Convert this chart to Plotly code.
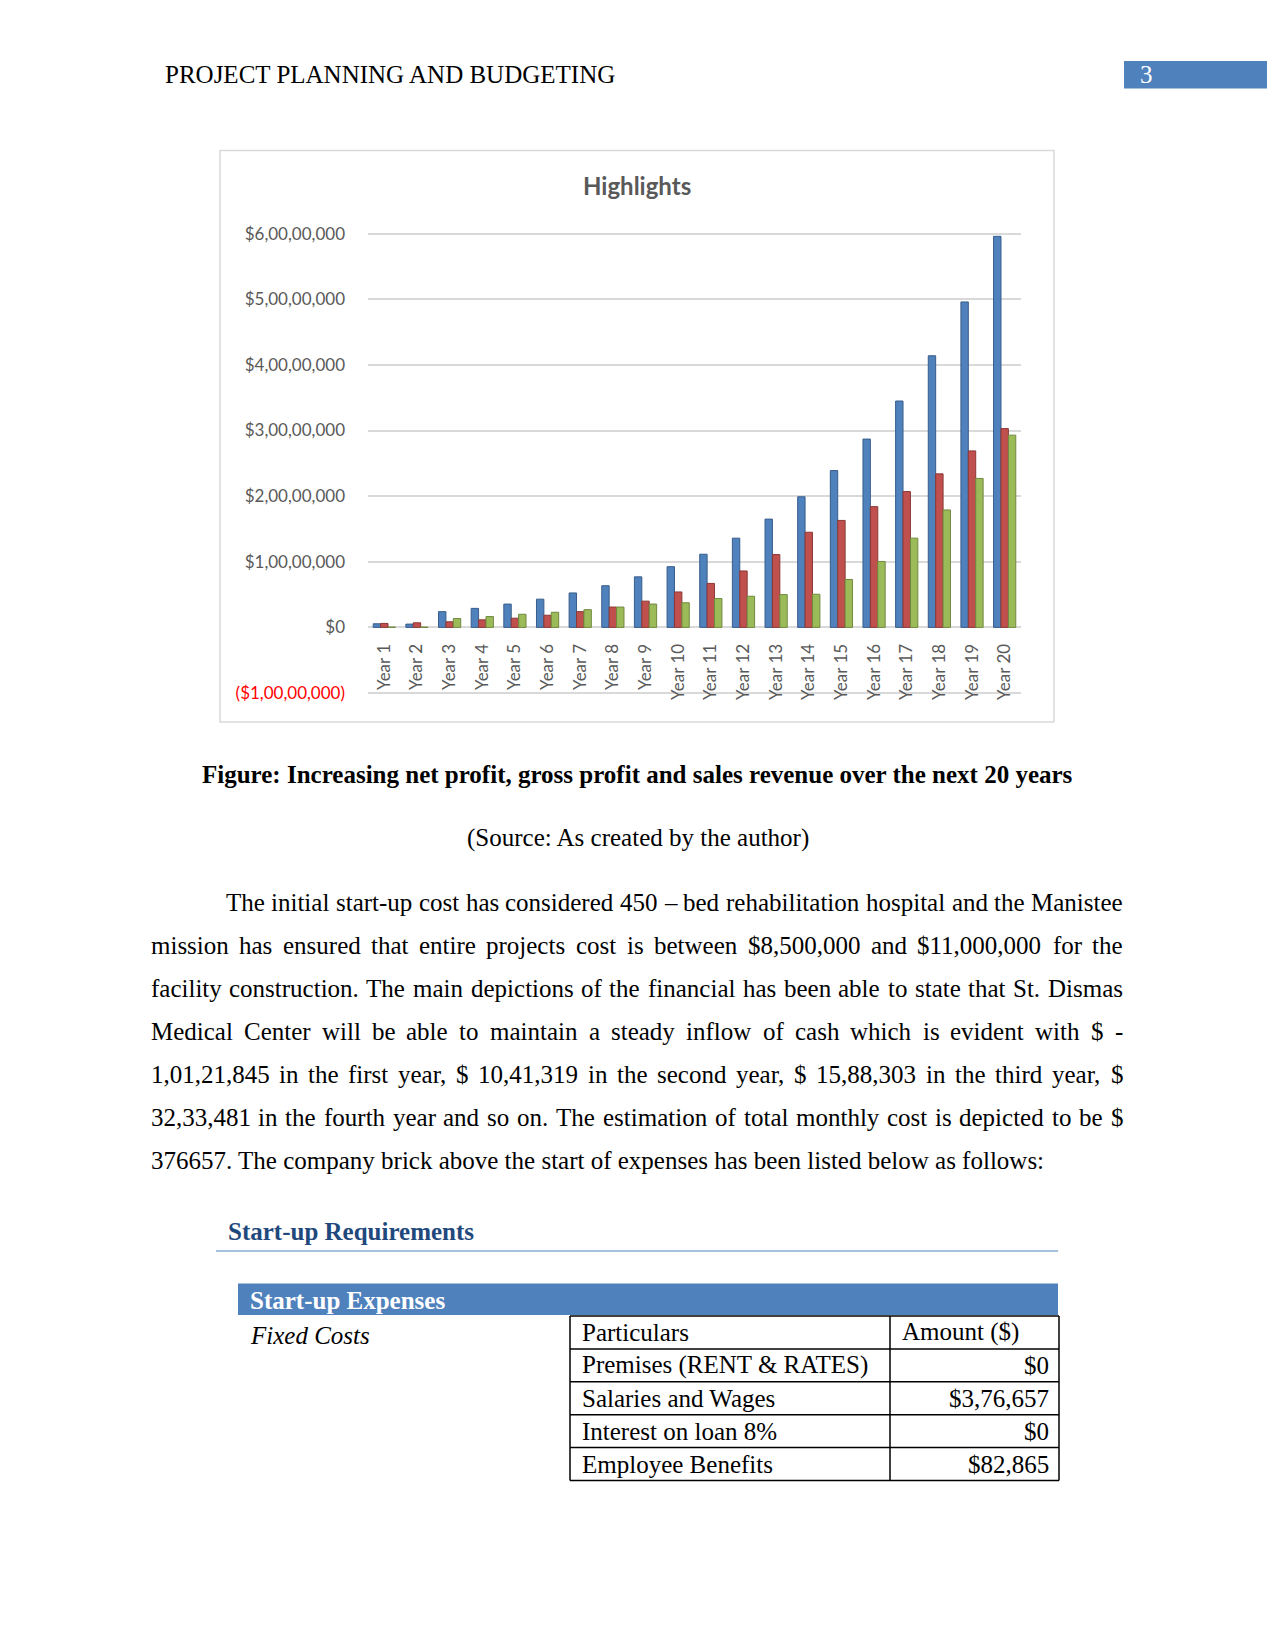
import plotly.graph_objects as go

# The page body adds an 8px margin around the figure; size the figure so the
# screen (1275x1651) coordinates below map exactly.
OFF = 8
FW, FH = 1267, 1635

# ---------------- chart data ----------------
years = ["Year 1", "Year 2", "Year 3", "Year 4", "Year 5", "Year 6", "Year 7", "Year 8",
         "Year 9", "Year 10", "Year 11", "Year 12", "Year 13", "Year 14", "Year 15",
         "Year 16", "Year 17", "Year 18", "Year 19", "Year 20"]
sales_revenue = [550000, 500000, 2400000, 2900000, 3550000, 4300000, 5250000, 6350000,
                 7700000, 9250000, 11150000, 13600000, 16500000, 19900000, 23900000,
                 28700000, 34500000, 41400000, 49600000, 59600000]
gross_profit = [600000, 700000, 850000, 1150000, 1400000, 1850000, 2400000, 3100000,
                4000000, 5400000, 6700000, 8600000, 11100000, 14500000, 16300000,
                18400000, 20700000, 23400000, 26900000, 30300000]
net_profit = [50000, 40000, 1350000, 1650000, 2000000, 2300000, 2700000, 3100000,
              3550000, 3750000, 4400000, 4750000, 5000000, 5050000, 7300000,
              10050000, 13600000, 17900000, 22700000, 29300000]
y_tick_vals = [-10000000, 0, 10000000, 20000000, 30000000, 40000000, 50000000, 60000000]
y_tick_text = ["<span style='color:#FF0000'>($1,00,00,000)</span>", "$0", "$1,00,00,000",
               "$2,00,00,000", "$3,00,00,000", "$4,00,00,000", "$5,00,00,000", "$6,00,00,000"]

# ---------------- page text ----------------
header_text = "PROJECT PLANNING AND BUDGETING"
page_number = "3"
chart_title = "Highlights"
caption = "Figure: Increasing net profit, gross profit and sales revenue over the next 20 years"
source = "(Source: As created by the author)"
paragraph_lines = [
    "The initial start-up cost has considered 450 \u2013 bed rehabilitation hospital and the Manistee",
    "mission has ensured that entire projects cost is between $8,500,000 and $11,000,000 for the",
    "facility construction. The main depictions of the financial has been able to state that St. Dismas",
    "Medical Center will be able to maintain a steady inflow of cash which is evident with $ -",
    "1,01,21,845 in the first year, $ 10,41,319 in the second year, $ 15,88,303 in the third year, $",
    "32,33,481 in the fourth year and so on. The estimation of total monthly cost is depicted to be $",
    "376657. The company brick above the start of expenses has been listed below as follows:",
]
section_title = "Start-up Requirements"
table_title = "Start-up Expenses"
fixed_label = "Fixed Costs"
particulars = ["Particulars", "Premises (RENT &amp; RATES)", "Salaries and Wages",
               "Interest on loan 8%", "Employee Benefits"]
amounts = ["Amount ($)", "$0", "$3,76,657", "$0", "$82,865"]

SERIF = "Liberation Serif"
SANS = "Lato"


def px(x):
    return (x - OFF) / FW


def py(y):
    return 1 - (y - OFF) / FH


# Times / Liberation Serif advance widths (per 1000 em)
TW = {' ': 250, 'a': 444, 'b': 500, 'c': 444, 'd': 500, 'e': 444, 'f': 333, 'g': 500, 'h': 500,
      'i': 278, 'j': 278, 'k': 500, 'l': 278, 'm': 778, 'n': 500, 'o': 500, 'p': 500, 'q': 500,
      'r': 333, 's': 389, 't': 278, 'u': 500, 'v': 500, 'w': 722, 'x': 500, 'y': 500, 'z': 444,
      'A': 722, 'B': 667, 'C': 667, 'D': 722, 'E': 611, 'F': 556, 'G': 722, 'H': 722, 'I': 333,
      'J': 389, 'K': 722, 'L': 611, 'M': 889, 'N': 722, 'O': 722, 'P': 556, 'Q': 722, 'R': 667,
      'S': 556, 'T': 611, 'U': 722, 'V': 722, 'W': 944, 'X': 722, 'Y': 722, 'Z': 611,
      ',': 250, '.': 250, '-': 333, '\u2013': 500, '$': 500, ':': 278, '(': 333, ')': 333}


def text_w(s, size):
    return sum(TW.get(c, 500) for c in s) / 1000 * size


fig = go.Figure()

colors = [("Sales Revenue", sales_revenue, "#4F81BD", "#385D8A"),
          ("Gross Profit", gross_profit, "#C0504D", "#8C3836"),
          ("Net Profit", net_profit, "#9BBB59", "#71893F")]
for name, vals, c, edge in colors:
    fig.add_trace(go.Bar(x=years, y=vals, name=name,
                         marker=dict(color=c, line=dict(color=edge, width=1))))

fig.update_layout(
    template="none",
    width=FW, height=FH, margin=dict(l=0, r=0, t=0, b=0, pad=0, autoexpand=False),
    paper_bgcolor="white", plot_bgcolor="rgba(0,0,0,0)",
    showlegend=False, barmode="group", bargap=0.32, bargroupgap=0,
)
# grid: -1 Cr at y=693, 6 Cr at y=233.7 (65.61 px per Cr); pad range a little
pad_val = 500000
pad_px = 65.61 * pad_val / 10000000
fig.update_xaxes(domain=[px(368), px(1021)], anchor="free", position=py(627.5),
                 automargin=False, tickangle=-90,
                 tickfont=dict(family=SANS, size=17, color="#595959"),
                 showgrid=False, showline=False, zeroline=False, ticks="",
                 ticklabelstandoff=12, fixedrange=True)
fig.update_yaxes(domain=[py(693 + pad_px), py(233.7 - pad_px)],
                 range=[-10000000 - pad_val, 60000000 + pad_val],
                 automargin=False, tickvals=y_tick_vals, ticktext=y_tick_text,
                 tickfont=dict(family=SANS, size=17, color="#595959"),
                 showgrid=True, gridcolor="#D9D9D9", gridwidth=2, zeroline=False,
                 showline=False, ticks="", ticklabelstandoff=22, fixedrange=True)

shapes = []
ann = []


def add_text(x, y, text, size=25, xanchor="left", color="black", family=SERIF, bold=False, italic=False):
    t = text
    if bold:
        t = "<b>" + t + "</b>"
    if italic:
        t = "<i>" + t + "</i>"
    ann.append(dict(x=px(x), y=py(y), xref="paper", yref="paper", text=t, showarrow=False,
                    xanchor=xanchor, yanchor="middle", borderpad=0, borderwidth=0,
                    font=dict(family=family, size=size, color=color)))


# header
add_text(165, 75, header_text)
shapes.append(dict(type="rect", xref="paper", yref="paper", x0=px(1124), x1=px(1275),
                   y0=py(88.5), y1=py(61), fillcolor="#4F81BD", line=dict(width=0), layer="below"))
add_text(1146, 75, page_number, xanchor="center", color="white")

# chart frame and title
shapes.append(dict(type="rect", xref="paper", yref="paper", x0=px(220), x1=px(1054),
                   y0=py(722), y1=py(150.5), line=dict(color="#D9D9D9", width=1.5), layer="below"))
add_text(637, 185, chart_title, size=24, xanchor="center", color="#595959", family=SANS, bold=True)

# caption
add_text(637.5, 774, caption, xanchor="center", bold=True)
add_text(637.5, 838, source, xanchor="center")

# justified paragraph
LEFT, RIGHT, INDENT = 150.5, 1123, 225.5
line_y0, line_dy = 902.3, 43.0
for i, line in enumerate(paragraph_lines):
    y = line_y0 + i * line_dy
    x0 = INDENT if i == 0 else LEFT
    if i == len(paragraph_lines) - 1:
        add_text(x0, y, line)
        continue
    words = line.split(" ")
    widths = [text_w(w, 25) for w in words]
    gap = (RIGHT - x0 - sum(widths)) / (len(words) - 1)
    x = x0
    for w, wd in zip(words, widths):
        add_text(x, y, w)
        x += wd + gap

# section heading
add_text(227.5, 1231, section_title, color="#1F497D", bold=True)
shapes.append(dict(type="line", xref="paper", yref="paper", x0=px(216), x1=px(1058),
                   y0=py(1251), y1=py(1251), line=dict(color="#4F81BD", width=1)))

# table title bar
shapes.append(dict(type="rect", xref="paper", yref="paper", x0=px(238), x1=px(1058),
                   y0=py(1315), y1=py(1283.5), fillcolor="#4F81BD", line=dict(width=0), layer="below"))
add_text(249.5, 1300, table_title, color="white", bold=True)
add_text(249.5, 1335, fixed_label, italic=True)

# table grid
tx0, tx1, tx2 = 570, 890, 1059
top, rh = 1316, 32.9
n = len(particulars)
for r in range(n + 1):
    yy = top + r * rh
    shapes.append(dict(type="line", xref="paper", yref="paper", x0=px(tx0), x1=px(tx2),
                       y0=py(yy), y1=py(yy), line=dict(color="black", width=1.5)))
for xx in (tx0, tx1, tx2):
    shapes.append(dict(type="line", xref="paper", yref="paper", x0=px(xx), x1=px(xx),
                       y0=py(top), y1=py(top + n * rh), line=dict(color="black", width=1.5)))
for r in range(n):
    yc = top + (r + 0.5) * rh
    add_text(582, yc, particulars[r])
    if r == 0:
        add_text(902, yc, amounts[r])
    else:
        add_text(1049, yc, amounts[r], xanchor="right")

fig.update_layout(shapes=shapes, annotations=ann)
fig.write_html("out.html")
